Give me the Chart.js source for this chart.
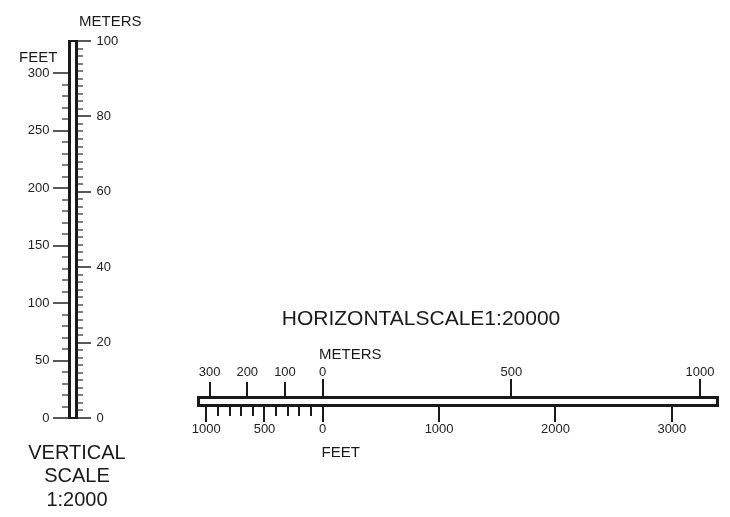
<!DOCTYPE html>
<html>
<head>
<meta charset="utf-8">
<script src="https://cdn.jsdelivr.net/npm/chart.js@4/dist/chart.umd.min.js"></script>
<style>
  body { margin: 0; background: #fff; }
  #wrap { position: relative; width: 730px; height: 517px; overflow: hidden;
          font-family: "Liberation Sans", Arial, sans-serif; color: #1a1a1a; }
  canvas { position: absolute; }
  .txt { position: absolute; white-space: nowrap; line-height: 1; }
</style>
</head>
<body>
<div id="wrap">
  <canvas id="vertical" width="160" height="517" style="left:0;top:0"></canvas>
  <canvas id="horizontal" width="580" height="150" style="left:150px;top:330px"></canvas>

  <div class="txt" style="left:79px;top:12.6px;font-size:15px">METERS</div>
  <div class="txt" style="left:19px;top:49.3px;font-size:15px">FEET</div>
  <div class="txt" style="left:421px;top:307.2px;font-size:21px;transform:translateX(-50%)">HORIZONTALSCALE1:20000</div>
  <div class="txt" style="left:319px;top:345.6px;font-size:15px">METERS</div>
  <div class="txt" style="left:321.5px;top:444px;font-size:15px">FEET</div>
  <div class="txt" style="left:77px;top:440.5px;font-size:20px;line-height:23.7px;text-align:center;transform:translateX(-50%)">VERTICAL<br>SCALE<br>1:2000</div>
</div>

<script>
/* =========================
   VERTICAL SCALE 1:2000
========================= */
const vFeetMax = 328.084;              // 100 m in feet
const vFeetTop = 300;
const vFeetStep = 10;
const vFeetLabels = [0, 50, 100, 150, 200, 250, 300];

const vMeterMax = 100;
const vMeterStep = 2;
const vMeterLabels = [0, 20, 40, 60, 80, 100];

/* =========================
   HORIZONTAL SCALE 1:20000
========================= */
const hMeterTicks = [-300, -200, -100, 0, 500, 1000];
const hMeterShort = [-300, -200, -100];
const hMeterRange = [-329.2, 1046.4];

const hFeetMajor = [-1000, -500, 0, 1000, 2000, 3000];
const hFeetMinor = [-900, -800, -700, -600, -400, -300, -200, -100];
const hFeetRange = [-1067, 3392];

const INK = "#1a1a1a";
const TXT = "#222";
const FONT = { family: "'Liberation Sans', Arial, sans-serif", size: 13 };

function tickList(top, step) {
  const out = [];
  for (let v = 0; v <= top; v += step) out.push({ value: v });
  return out;
}

/* =========================
   VERTICAL RULER
========================= */
new Chart(document.getElementById("vertical"), {
  type: "scatter",
  data: { datasets: [] },
  options: {
    responsive: false,
    animation: false,
    layout: { padding: { top: 41, bottom: 99, left: 0, right: 0 } },
    plugins: { legend: { display: false }, tooltip: { enabled: false } },
    scales: {
      x: { display: false, min: 0, max: 1 },
      y: { display: false, min: 0, max: 1 },
      feet: {
        axis: "y", position: "left", min: 0, max: vFeetMax,
        afterFit: s => { s.width = 69.5; },
        afterBuildTicks: s => { s.ticks = tickList(vFeetTop, vFeetStep); },
        border: { display: true, width: 3, color: INK },
        grid: {
          drawOnChartArea: false, lineWidth: 2, tickLength: 16.5, tickWidth: 1.5,
          tickColor: c => vFeetLabels.includes(c.tick.value) ? "#222" : "#555",
          tickBorderDash: c => vFeetLabels.includes(c.tick.value) ? [] : [0, 9, 6, 1000]
        },
        ticks: {
          autoSkip: false, padding: 3.5, color: TXT, font: FONT,
          callback: v => vFeetLabels.includes(v) ? String(v) : ""
        }
      },
      meters: {
        axis: "y", position: "right", min: 0, max: vMeterMax,
        afterFit: s => { s.width = 160 - 76.5; },
        afterBuildTicks: s => { s.ticks = tickList(vMeterMax, vMeterStep); },
        border: { display: true, width: 3, color: INK },
        grid: {
          drawOnChartArea: true,
          color: c => (c.tick.value === 0 || c.tick.value === vMeterMax) ? INK : "rgba(0,0,0,0)",
          lineWidth: c => (c.tick.value === 0 || c.tick.value === vMeterMax) ? 2 : 0,
          tickLength: 14.5, tickWidth: 1.5,
          tickColor: c => vMeterLabels.includes(c.tick.value) ? "#222" : "#555",
          tickBorderDash: c => vMeterLabels.includes(c.tick.value) ? [] : [5, 1000]
        },
        ticks: {
          autoSkip: false, padding: 5.5, color: TXT, font: FONT,
          callback: v => vMeterLabels.includes(v) ? String(v) : ""
        }
      }
    }
  }
});

/* =========================
   HORIZONTAL RULER
========================= */
new Chart(document.getElementById("horizontal"), {
  type: "scatter",
  data: { datasets: [] },
  options: {
    responsive: false,
    animation: false,
    layout: { padding: 0 },
    plugins: { legend: { display: false }, tooltip: { enabled: false } },
    scales: {
      x: { display: false, min: 0, max: 1 },
      y: { display: false, min: 0, max: 1 },
      meters: {
        axis: "x", position: "top", min: hMeterRange[0], max: hMeterRange[1],
        afterFit: s => { s.height = 67.5; },
        afterBuildTicks: s => { s.ticks = hMeterTicks.map(v => ({ value: v })); },
        border: { display: true, width: 3, color: INK },
        grid: {
          drawOnChartArea: false, lineWidth: 2, tickLength: 18.5, tickWidth: 2, tickColor: INK,
          tickBorderDash: c => hMeterShort.includes(c.tick.value) ? [0, 3, 14, 1000] : []
        },
        ticks: {
          autoSkip: false, maxRotation: 0, padding: -1, color: TXT, font: FONT,
          callback: v => String(Math.abs(v))
        }
      },
      feet: {
        axis: "x", position: "bottom", min: hFeetRange[0], max: hFeetRange[1],
        afterFit: s => { s.height = 74.5; },
        afterBuildTicks: s => {
          s.ticks = [...hFeetMajor, ...hFeetMinor].sort((a, b) => a - b).map(v => ({ value: v }));
        },
        border: { display: true, width: 3, color: INK },
        grid: {
          drawOnChartArea: false, lineWidth: 2, tickLength: 16.5, tickWidth: 2, tickColor: INK,
          tickBorderDash: c => hFeetMajor.includes(c.tick.value) ? [] : [9, 1000]
        },
        ticks: {
          autoSkip: false, maxRotation: 0, padding: 0, color: TXT, font: FONT,
          callback: v => hFeetMajor.includes(v) ? String(Math.abs(v)) : ""
        }
      },
      capLeft: {
        axis: "y", position: "left", min: 0, max: 1,
        afterFit: s => { s.width = 48.5; },
        border: { display: true, width: 3, color: INK },
        grid: { drawOnChartArea: false, drawTicks: false, lineWidth: 3 },
        ticks: { display: false }
      },
      capRight: {
        axis: "y", position: "right", min: 0, max: 1,
        afterFit: s => { s.width = 12.5; },
        border: { display: true, width: 3, color: INK },
        grid: { drawOnChartArea: false, drawTicks: false, lineWidth: 3 },
        ticks: { display: false }
      }
    }
  }
});
</script>
</body>
</html>
